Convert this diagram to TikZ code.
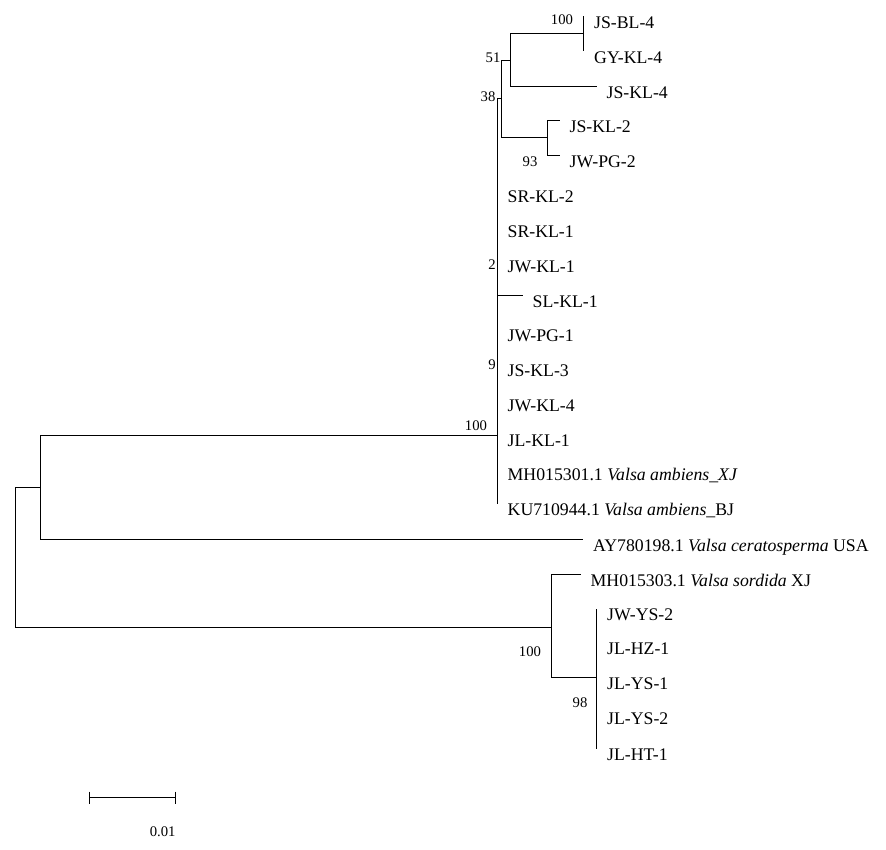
\documentclass[tikz,border=0pt]{standalone}
\usepackage{fontspec}
\setmainfont{Liberation Serif}
\begin{document}
\begin{tikzpicture}[x=1pt,y=-1pt,
  br/.style={line width=1pt,black},
  tiplab/.style={anchor=base west,inner sep=0pt,font=\fontsize{17.75}{20}\selectfont},
  boot/.style={anchor=center,inner sep=0pt,font=\fontsize{14.7}{16}\selectfont}]
\fill[white] (0,0) rectangle (886,850);
\useasboundingbox (0,0) rectangle (886,850);
% internal nodes
\coordinate (R) at (15.5,557.5);
\coordinate (A) at (40.5,487.5);
\coordinate (I) at (497.5,435.5);
\coordinate (N38) at (501.5,98.5);
\coordinate (N51) at (510.5,60.5);
\coordinate (NA) at (583.5,33.5);
\coordinate (N93) at (547.5,137.5);
\coordinate (B) at (551.5,627.5);
\coordinate (N98) at (596.5,677.5);
% tips
\coordinate (t0) at (583.5,16.5);
\coordinate (t1) at (583.5,51.5);
\coordinate (t2) at (596.5,86.5);
\coordinate (t3) at (559.5,120.5);
\coordinate (t4) at (559.5,155.5);
\coordinate (t5) at (497.5,190.5);
\coordinate (t6) at (497.5,225.5);
\coordinate (t7) at (497.5,260.5);
\coordinate (t8) at (522.5,295.5);
\coordinate (t9) at (497.5,329.5);
\coordinate (t10) at (497.5,364.5);
\coordinate (t11) at (497.5,399.5);
\coordinate (t12) at (497.5,434.5);
\coordinate (t13) at (497.5,468.5);
\coordinate (t14) at (497.5,503.5);
\coordinate (t15) at (582.5,539.5);
\coordinate (t16) at (580.5,574.5);
\coordinate (t17) at (596.5,608.5);
\coordinate (t18) at (596.5,642.5);
\coordinate (t19) at (596.5,677.5);
\coordinate (t20) at (596.5,712.5);
\coordinate (t21) at (596.5,748.5);
% branches
\draw[br] (R) |- (A);
\draw[br] (R) |- (B);
\draw[br] (A) |- (I);
\draw[br] (A) |- (t15);
\draw[br] (I) |- (N38);
\draw[br] (I) |- (t5);
\draw[br] (I) |- (t8);
\draw[br] (I) |- (t14);
\draw[br] (N38) |- (N51);
\draw[br] (N38) |- (N93);
\draw[br] (N51) |- (NA);
\draw[br] (N51) |- (t2);
\draw[br] (NA) |- (t0);
\draw[br] (NA) |- (t1);
\draw[br] (N93) |- (t3);
\draw[br] (N93) |- (t4);
\draw[br] (B) |- (t16);
\draw[br] (B) |- (N98);
\draw[br] (N98) |- (t17);
\draw[br] (N98) |- (t21);
% tip labels
\node[tiplab] (L0) at ([xshift=10.5pt,yshift=-12.3pt]t0) {JS-BL-4};
\node[tiplab] (L1) at ([xshift=10.5pt,yshift=-12.3pt]t1) {GY-KL-4};
\node[tiplab] (L2) at ([xshift=10pt,yshift=-12.3pt]t2) {JS-KL-4};
\node[tiplab] (L3) at ([xshift=10pt,yshift=-12.3pt]t3) {JS-KL-2};
\node[tiplab] (L4) at ([xshift=10pt,yshift=-12.3pt]t4) {JW-PG-2};
\node[tiplab] (L5) at ([xshift=10pt,yshift=-12.3pt]t5) {SR-KL-2};
\node[tiplab] (L6) at ([xshift=10pt,yshift=-12.3pt]t6) {SR-KL-1};
\node[tiplab] (L7) at ([xshift=10pt,yshift=-12.3pt]t7) {JW-KL-1};
\node[tiplab] (L8) at ([xshift=10pt,yshift=-12.3pt]t8) {SL-KL-1};
\node[tiplab] (L9) at ([xshift=10pt,yshift=-12.3pt]t9) {JW-PG-1};
\node[tiplab] (L10) at ([xshift=10pt,yshift=-12.3pt]t10) {JS-KL-3};
\node[tiplab] (L11) at ([xshift=10pt,yshift=-12.3pt]t11) {JW-KL-4};
\node[tiplab] (L12) at ([xshift=10pt,yshift=-12.3pt]t12) {JL-KL-1};
\node[tiplab] (L13) at ([xshift=10pt,yshift=-12.3pt]t13) {MH015301.1 \textit{Valsa ambiens\_XJ}};
\node[tiplab] (L14) at ([xshift=10pt,yshift=-12.3pt]t14) {KU710944.1 \textit{Valsa ambiens}\_BJ};
\node[tiplab] (L15) at ([xshift=10.5pt,yshift=-12.3pt]t15) {AY780198.1 \textit{Valsa ceratosperma} USA};
\node[tiplab] (L16) at ([xshift=10pt,yshift=-12.3pt]t16) {MH015303.1 \textit{Valsa sordida} XJ};
\node[tiplab] (L17) at ([xshift=10.5pt,yshift=-12.3pt]t17) {JW-YS-2};
\node[tiplab] (L18) at ([xshift=10.5pt,yshift=-12.3pt]t18) {JL-HZ-1};
\node[tiplab] (L19) at ([xshift=10.5pt,yshift=-12.3pt]t19) {JL-YS-1};
\node[tiplab] (L20) at ([xshift=10.5pt,yshift=-12.3pt]t20) {JL-YS-2};
\node[tiplab] (L21) at ([xshift=10.5pt,yshift=-12.3pt]t21) {JL-HT-1};
% bootstrap values
\node[boot] (b1) at (562,20) {100};
\node[boot] (b2) at (493,58) {51};
\node[boot] (b3) at (488,97) {38};
\node[boot] (b4) at (530,162) {93};
\node[boot] (b5) at (492,264.5) {2};
\node[boot] (b6) at (492,365) {9};
\node[boot] (b7) at (476,426) {100};
\node[boot] (b8) at (530,652) {100};
\node[boot] (b9) at (580,703) {98};
% scale bar
\coordinate (sbL) at (89.5,797.5);
\coordinate (sbR) at (175.5,797.5);
\draw[br] (sbL) -- (sbR);
\draw[br] ([yshift=6pt]sbL) -- ([yshift=-6pt]sbL);
\draw[br] ([yshift=6pt]sbR) -- ([yshift=-6pt]sbR);
\node[boot] (sbT) at (162.7,831.7) {0.01};
\end{tikzpicture}
\end{document}
